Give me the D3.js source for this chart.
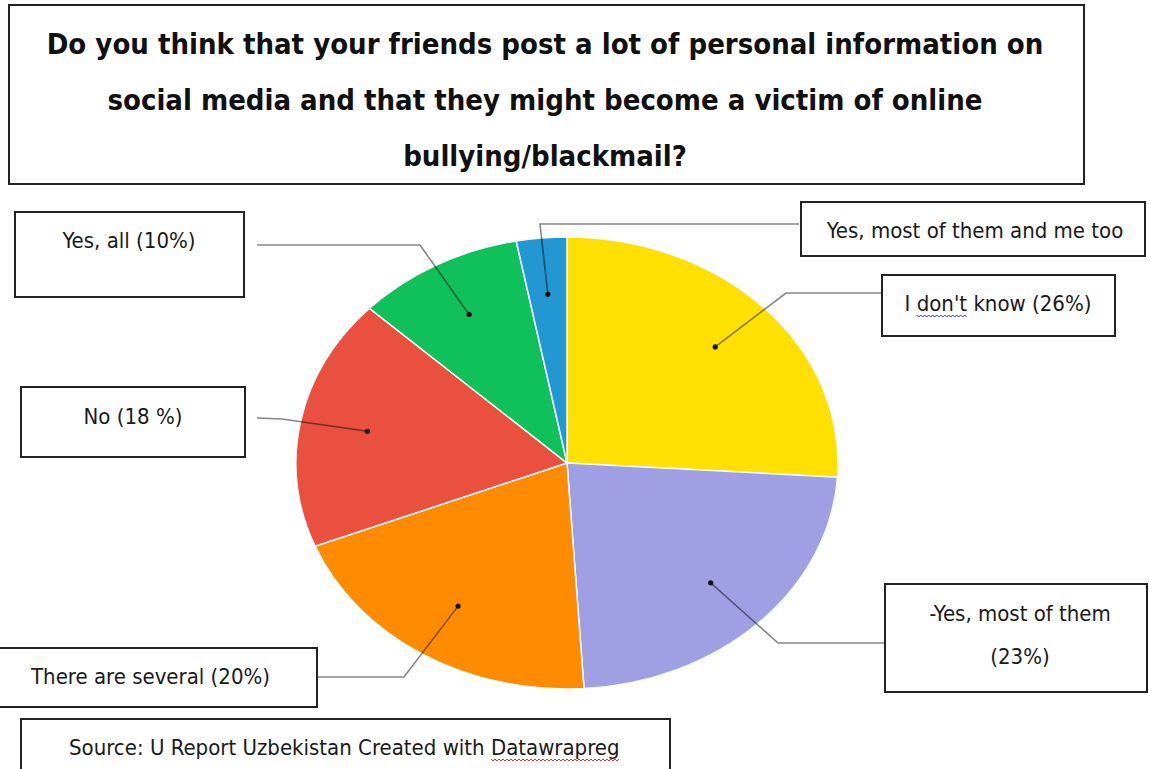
<!DOCTYPE html>
<html>
<head>
<meta charset="utf-8">
<script src="https://cdn.jsdelivr.net/npm/d3@7"></script>
<style>
  html, body { margin: 0; padding: 0; background: #fff; }
  svg { display: block; }
  text { font-family: 'DejaVu Sans Condensed', 'DejaVu Sans', 'Noto Sans', sans-serif; fill: #1a1a1a; }
</style>
</head>
<body>
<svg id="chart" width="1149" height="769"></svg>
<script>
// Survey answers, clockwise from 12 o'clock
const categories = ["I don't know", "-Yes, most of them", "There are several", "No", "Yes, all", "Yes, most of them and me too"];
const shares = [26, 23, 20, 18, 10, 3];
const labelLines = [
  ["I don't know (26%)"],
  ["-Yes, most of them", "(23%)"],
  ["There are several (20%)"],
  ["No (18 %)"],
  ["Yes, all (10%)"],
  ["Yes, most of them and me too"]
];
const palette = ["#FFE000", "#A19FE4", "#FF8C00", "#E9503F", "#10C05A", "#2297D2"];

const titleLines = [
  "Do you think that your friends post a lot of personal information on",
  "social media and that they might become a victim of online",
  "bullying/blackmail?"
];
const sourceText = "Source: U Report Uzbekistan Created with Datawrapreg";

const svg = d3.select("#chart");

// ---- title box ----
svg.append("rect").attr("x", 9).attr("y", 5).attr("width", 1075).attr("height", 179)
  .attr("fill", "#fff").attr("stroke", "#222").attr("stroke-width", 2);
svg.append("g").selectAll("text").data(titleLines).join("text")
  .attr("x", 545).attr("y", (d, i) => 54 + i * 56)
  .attr("text-anchor", "middle").attr("font-size", 29).attr("font-weight", "bold")
  .style("fill", "#111")
  .text(d => d);

// ---- elliptical pie ----
const cx = 567, cy = 463, rx = 271, ry = 226;
const pie = d3.pie().sort(null).value(d => d);
const arcs = pie(shares);
const arc = d3.arc().innerRadius(0).outerRadius(ry);

const pieG = svg.append("g").attr("transform", `translate(${cx},${cy}) scale(${rx / ry},1)`);
pieG.selectAll("path").data(arcs).join("path")
  .attr("d", arc)
  .attr("fill", (d, i) => palette[i])
  .attr("stroke", "#f4fbff").attr("stroke-width", 1.5)
  .attr("vector-effect", "non-scaling-stroke");

// anchor point inside each slice, on the ellipse at 3/4 of the radius
function anchor(d) {
  const a = (d.startAngle + d.endAngle) / 2;
  return [cx + rx * 0.75 * Math.sin(a), cy - ry * 0.75 * Math.cos(a)];
}

// label boxes and leader elbows
const layout = [
  { box: [882, 275, 233, 61],  elbow: [786, 293], end: [882, 293], textX: 998, textY: [311], anchor: "middle" },
  { box: [885, 584, 262, 108], elbow: [778, 643], end: [885, 643], textX: 1020, textY: [621, 664], anchor: "middle" },
  { box: [-2, 648, 319, 59],   elbow: [404, 677], end: [317, 677], textX: 31, textY: [684], anchor: "start" },
  { box: [21, 387, 224, 70],   elbow: [282, 419], end: [257, 418], textX: 133, textY: [424], anchor: "middle" },
  { box: [15, 212, 229, 85],   elbow: [420, 245], end: [257, 245], textX: 129, textY: [248], anchor: "middle" },
  { box: [801, 202, 344, 54],  elbow: [540, 224], end: [799, 224], textX: 975, textY: [238], anchor: "middle" }
];

// leader lines
const leaders = svg.append("g");
arcs.forEach((d, i) => {
  const p = anchor(d), L = layout[i];
  leaders.append("path")
    .attr("d", d3.line()([p, L.elbow, L.end]))
    .attr("fill", "none").attr("stroke", "#000").attr("stroke-opacity", 0.48)
    .attr("stroke-width", 1.6);
  leaders.append("circle").attr("cx", p[0]).attr("cy", p[1]).attr("r", 2.6)
    .attr("fill", "#111");
});

// label boxes
const labels = svg.append("g");
arcs.forEach((d, i) => {
  const L = layout[i];
  labels.append("rect")
    .attr("x", L.box[0]).attr("y", L.box[1]).attr("width", L.box[2]).attr("height", L.box[3])
    .attr("fill", "#fff").attr("stroke", "#222").attr("stroke-width", 2);
  labelLines[i].forEach((line, j) => {
    labels.append("text").attr("class", "lbl-" + i)
      .attr("x", L.textX).attr("y", L.textY[j])
      .attr("text-anchor", L.anchor).attr("font-size", 22)
      .text(line);
  });
});

// source box
svg.append("rect").attr("x", 21).attr("y", 719).attr("width", 649).attr("height", 60)
  .attr("fill", "#fff").attr("stroke", "#222").attr("stroke-width", 2);
const src = svg.append("text").attr("x", 69).attr("y", 755).attr("font-size", 22).text(sourceText);

// spell-check squiggles under flagged words
function squiggle(textSel, word, color) {
  const node = textSel.node();
  const idx = node.textContent.indexOf(word);
  if (idx < 0) return;
  const start = node.getStartPositionOfChar(idx);
  const width = node.getSubStringLength(idx, word.length);
  const y0 = start.y + 4;
  const pts = [];
  for (let x = 0; x <= width; x += 2) pts.push([start.x + x, y0 + ((x / 2) % 2 ? 2 : 0)]);
  svg.append("path").attr("d", d3.line()(pts)).attr("fill", "none")
    .attr("stroke", color).attr("stroke-width", 1);
}
squiggle(svg.select(".lbl-0"), "don't", "#3a3ad0");
squiggle(src, "Datawrapreg", "#e02020");
</script>
</body>
</html>
